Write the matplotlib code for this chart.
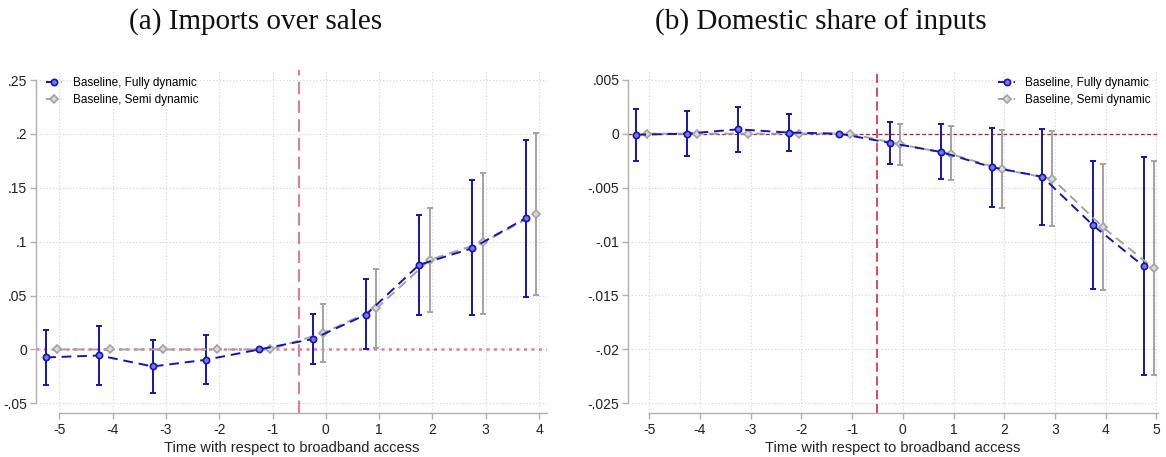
import matplotlib
matplotlib.use("Agg")
import matplotlib.pyplot as plt
import numpy as np

# ---------------- data ----------------
periods_a = [-5, -4, -3, -2, -1, 0, 1, 2, 3, 4]
fully_a = [-0.0074, -0.0056, -0.0158, -0.0096, 0.0, 0.0096, 0.0322, 0.0785, 0.094, 0.1218]
fully_a_lo = [-0.0327, -0.0327, -0.0405, -0.032, 0.0, -0.0133, 0.0, 0.0322, 0.032, 0.049]
fully_a_hi = [0.0176, 0.0213, 0.009, 0.013, 0.0, 0.0328, 0.0652, 0.125, 0.157, 0.1945]
semi_a = [0.0, 0.0, 0.0, 0.0, 0.0, 0.0152, 0.038, 0.0832, 0.0993, 0.1258]
semi_a_lo = [0.0, 0.0, 0.0, 0.0, 0.0, -0.0118, 0.001, 0.0346, 0.0331, 0.0507]
semi_a_hi = [0.0, 0.0, 0.0, 0.0, 0.0, 0.042, 0.0745, 0.1317, 0.1636, 0.2007]

periods_b = [-5, -4, -3, -2, -1, 0, 1, 2, 3, 4, 5]
fully_b = [-0.0001, 0.0, 0.0004, 0.0001, 0.0, -0.00086, -0.0017, -0.0031, -0.0040, -0.0085, -0.0123]
fully_b_lo = [-0.0025, -0.0021, -0.0017, -0.0016, 0.0, -0.0028, -0.0042, -0.0068, -0.0085, -0.0144, -0.0224]
fully_b_hi = [0.0023, 0.0021, 0.0025, 0.0018, 0.0, 0.0011, 0.0009, 0.0005, 0.0004, -0.0025, -0.0022]
semi_b = [0.0, 0.0, 0.0, 0.0, 0.0, -0.0010, -0.0019, -0.0033, -0.0042, -0.0087, -0.0125]
semi_b_lo = [0.0, 0.0, 0.0, 0.0, 0.0, -0.0029, -0.0043, -0.0069, -0.0086, -0.0145, -0.0224]
semi_b_hi = [0.0, 0.0, 0.0, 0.0, 0.0, 0.0009, 0.0007, 0.0003, 0.0002, -0.0028, -0.0025]

yticks_a = [-0.05, 0, 0.05, 0.1, 0.15, 0.2, 0.25]
yticklabels_a = ["-.05", "0", ".05", ".1", ".15", ".2", ".25"]
yticks_b = [-0.025, -0.02, -0.015, -0.01, -0.005, 0, 0.005]
yticklabels_b = ["-.025", "-.02", "-.015", "-.01", "-.005", "0", ".005"]

title_a = "(a) Imports over sales"
title_b = "(b) Domestic share of inputs"
xlabel = "Time with respect to broadband access"
label_fully = "Baseline, Fully dynamic"
label_semi = "Baseline, Semi dynamic"

# ---------------- style ----------------
BLUE = "#1414b8"
BLUE_FILL = "#7a7ad8"
GRAY = "#a3a3a3"
GRAY_FILL = "#dadada"
AXGRAY = "#b0b0b0"
plt.rcParams["font.family"] = ["Liberation Sans", "DejaVu Sans"]

fig = plt.figure(figsize=(11.66, 4.57), dpi=100)
W, H = 1166, 457


def make_ax(x0, x1, y0, y1):
    return fig.add_axes([x0 / W, (H - y1) / H, (x1 - x0) / W, (y1 - y0) / H])


ax_a = make_ax(36, 547, 70, 412.7)
ax_b = make_ax(628.3, 1158, 70, 412.7)


def draw(ax, periods, f, flo, fhi, s, slo, shi, xlim, ylim, yticks, ylabels,
         xticks, zero_color, zero_style, zero_lw, vcolor, vlw, legend_loc, legend_anchor):
    p = np.array(periods, dtype=float)
    xf = p - 0.25
    xs = p - 0.05
    f = np.array(f); s = np.array(s)
    ferr = [f - np.array(flo), np.array(fhi) - f]
    serr = [s - np.array(slo), np.array(shi) - s]
    # grid
    for yt in yticks:
        ax.axhline(yt, color="#d4d4d4", lw=0.8, ls=(0, (1, 2)), zorder=0)
    for xt in xticks:
        ax.axvline(xt, color="#d4d4d4", lw=0.8, ls=(0, (1, 2)), zorder=0)
    # reference lines
    ax.axhline(0, color=zero_color, lw=zero_lw, ls=zero_style, zorder=1)
    ax.axvline(-0.5, color=vcolor, lw=vlw, ls=(0, (6, 3)), zorder=1)
    # CIs (skip zero-width)
    mask_f = np.array(fhi) != np.array(flo)
    mask_s = np.array(shi) != np.array(slo)
    ax.errorbar(xf[mask_f], f[mask_f], yerr=[ferr[0][mask_f], ferr[1][mask_f]], fmt="none",
                ecolor=BLUE, elinewidth=1.4, capsize=2.5, capthick=1.4, zorder=3)
    ax.errorbar(xs[mask_s], s[mask_s], yerr=[serr[0][mask_s], serr[1][mask_s]], fmt="none",
                ecolor=GRAY, elinewidth=1.4, capsize=2.5, capthick=1.4, zorder=2)
    ax.plot(xs, s, color=GRAY, lw=1.4, ls=(0, (5, 3)), marker="D", ms=4.5,
            mfc=GRAY_FILL, mec=GRAY, mew=1.2, zorder=4, label=label_semi)
    ax.plot(xf, f, color=BLUE, lw=1.4, ls=(0, (5, 3)), marker="o", ms=4.5,
            mfc=BLUE_FILL, mec=BLUE, mew=1.2, zorder=5, label=label_fully)
    ax.set_xlim(*xlim)
    ax.set_ylim(*ylim)
    ax.set_yticks(yticks)
    ax.set_yticklabels(ylabels)
    ax.set_xticks(xticks)
    ax.set_xticklabels([str(x) for x in xticks])
    for sp in ["top", "right"]:
        ax.spines[sp].set_visible(False)
    ax.spines["left"].set_bounds(yticks[0], yticks[-1])
    ax.spines["bottom"].set_bounds(xticks[0], xlim[1])
    ax.spines["left"].set_color(AXGRAY)
    ax.spines["bottom"].set_color(AXGRAY)
    ax.spines["left"].set_linewidth(1.0)
    ax.spines["bottom"].set_linewidth(1.0)
    ax.tick_params(axis="both", colors=AXGRAY, labelcolor="#222222", labelsize=10, length=4, width=1.0)
    ax.tick_params(axis="y", pad=2.5)
    ax.set_xlabel(xlabel, fontsize=10.5, color="#222222", labelpad=3)
    ax.patch.set_alpha(0)
    handles, labels = ax.get_legend_handles_labels()
    handles = handles[::-1]; labels = labels[::-1]
    ax.legend(handles, labels, loc=legend_loc, bbox_to_anchor=legend_anchor, frameon=False,
              fontsize=8.5, handlelength=1.4, handletextpad=0.9, labelspacing=0.4, borderaxespad=0.2)


draw(ax_a, periods_a, fully_a, fully_a_lo, fully_a_hi, semi_a, semi_a_lo, semi_a_hi,
     (-5.44, 4.15), (-0.0587, 0.2593), yticks_a, yticklabels_a, list(range(-5, 5)),
     "#e47a95", (0, (1.2, 1.8)), 1.8, "#e47a95", 1.5, "upper left", (0.005, 1.0))
draw(ax_b, periods_b, fully_b, fully_b_lo, fully_b_hi, semi_b, semi_b_lo, semi_b_hi,
     (-5.41, 5.03), (-0.02587, 0.0059), yticks_b, yticklabels_b, list(range(-5, 6)),
     "#c8102e", (0, (3, 2)), 0.9, "#d01838", 1.1, "upper right", (1.0, 1.0))

fig.text(256 / W, 1 - 22 / H, title_a, ha="center", va="center", fontsize=21,
         family=["Liberation Serif", "DejaVu Serif"], color="#111111")
fig.text(821 / W, 1 - 22 / H, title_b, ha="center", va="center", fontsize=21,
         family=["Liberation Serif", "DejaVu Serif"], color="#111111")

fig.savefig("out.png", dpi=100)
